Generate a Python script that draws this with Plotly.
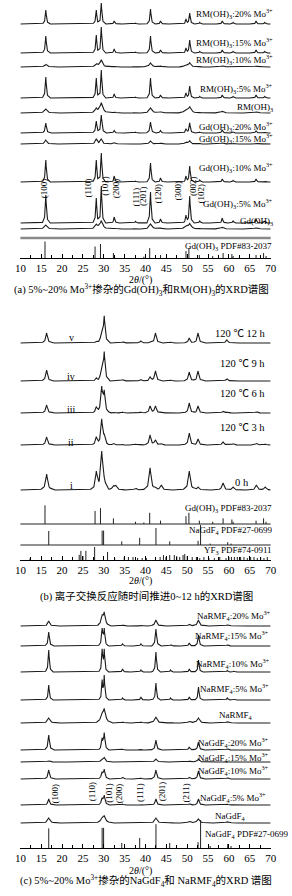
import numpy as np
import plotly.graph_objects as go

W, H = 292, 896
FONT = "'Liberation Serif', 'Times New Roman', 'Noto Sans CJK SC', serif"

# ===================== DATA =====================
# ---- Panel (a): hydroxide patterns, peak positions (2θ/°) and heights ----
A_POS = [16.1, 28.2, 29.4, 32.5, 37.6, 41.2, 43.6, 49.7, 50.6, 53.0, 58.4, 61.0, 66.5, 68.6]
A_NAMES = ["RM(OH)<sub>3</sub>:20% Mo<sup>3+</sup>", "RM(OH)<sub>3</sub>:15% Mo<sup>3+</sup>",
           "RM(OH)<sub>3</sub>:10% Mo<sup>3+</sup>", "RM(OH)<sub>3</sub>:5% Mo<sup>3+</sup>",
           "RM(OH)<sub>3</sub>", "Gd(OH)<sub>3</sub>:20% Mo<sup>3+</sup>",
           "Gd(OH)<sub>3</sub>:15% Mo<sup>3+</sup>", "Gd(OH)<sub>3</sub>:10% Mo<sup>3+</sup>",
           "Gd(OH)<sub>3</sub>:5% Mo<sup>3+</sup>", "Gd(OH)<sub>3</sub>"]
A_HEIGHTS = [
    [14, 14, 21, 3, 1, 15, 3, 5, 11, 1.5, 3, 1.5, 3, 1.5],
    [17, 18, 26, 4, 1, 17, 3, 5, 13, 1.5, 3, 1.5, 3, 1.5],
    [3, 3, 7, 1, 0.5, 4, 1, 2, 4, 0.5, 1.5, 0.5, 1, 0.5],
    [21, 20, 28, 4, 1, 20, 3, 5, 12, 1.5, 3, 1.5, 3, 1.5],
    [4, 4, 10, 1, 0.5, 5, 1.5, 3, 6, 0.5, 2, 0.5, 1.5, 0.5],
    [10, 12, 18, 2.5, 1, 11, 2.5, 4, 10, 1, 3, 1, 2, 1],
    [4, 5, 5, 1.5, 0.5, 3, 1, 2, 3, 0.5, 1.5, 0.5, 1, 0.5],
    [22, 22, 29, 6, 1, 19, 4, 6, 16, 2, 3, 1.5, 3, 1],
    [28, 25, 37, 6, 1.5, 31, 4, 8, 27, 2, 5, 2, 4, 2],
    [4, 4, 8, 1, 0.5, 5, 1, 3, 5, 0.5, 2, 0.5, 1.5, 0.5],
]
A_HKL = ["(100)", "(110)", "(101)", "(200)", "(111)", "(201)", "(120)", "(300)", "(002)", "(102)"]
A_HKL_POS = [15.75, 26.1, 30.2, 33.0, 37.6, 39.4, 43.1, 47.9, 51.4, 53.4]

# ---- Reference cards (relative intensities) ----
GD_PDF_NAME = "Gd(OH)<sub>3</sub> PDF#83-2037"
GD_PDF_POS = [15.9, 27.9, 29.2, 32.3, 37.6, 39.6, 41.0, 43.6, 49.7, 50.4, 52.9, 56.1, 58.6, 60.7, 61.0, 66.5, 68.3, 68.9]
GD_PDF_I = [100, 70, 85, 30, 12, 8, 60, 18, 42, 60, 18, 12, 30, 24, 12, 18, 30, 12]

NAGDF_PDF_NAME = "NaGdF<sub>4</sub> PDF#27-0699"
NAGDF_PDF_POS = [16.8, 29.6, 29.95, 34.3, 38.6, 42.5, 45.8, 52.6, 53.2, 55.5, 59.7, 60.5]
NAGDF_PDF_I = [70, 72, 72, 18, 36, 85, 18, 21, 100, 7, 14, 7]

YF3_PDF_NAME = "YF<sub>3</sub> PDF#74-0911"
YF3_PDF_POS = [12.3, 24.1, 24.5, 25.0, 25.7, 27.8, 30.9, 32.6, 34.9, 35.9, 37.0, 38.1, 39.2, 40.2,
               43.5, 44.3, 44.9, 45.8, 46.9, 47.5, 48.2, 49.0, 49.4, 50.0, 51.2, 52.2, 53.0, 54.0,
               55.2, 56.5, 57.8, 59.3, 60.0, 60.6, 61.3, 62.0, 62.8, 63.6, 64.4, 65.2, 66.0, 66.8,
               67.6, 68.4, 69.2]
YF3_PDF_I = [12, 40, 70, 30, 70, 100, 62, 15, 23, 23, 23, 15, 15, 15,
             23, 38, 23, 38, 38, 30, 23, 38, 46, 30, 23, 23, 15, 23,
             15, 15, 23, 15, 23, 23, 23, 23, 23, 23, 15, 23, 23, 15,
             23, 15, 23]

# ---- Panel (b): ion exchange time series ----
B_POS = [16.3, 28.2, 29.5, 30.1, 32.3, 32.9, 34.5, 37.6, 38.9, 41.1, 42.4, 43.8, 46.0,
         50.5, 52.6, 58.6, 59.5, 61.0, 66.6, 68.7]
B_NAMES = ["120 ℃ 12 h", "120 ℃ 9 h", "120 ℃ 6 h", "120 ℃ 3 h", "0 h"]
B_ROMAN = ["v", "iv", "iii", "ii", "i"]
B_HEIGHTS = [
    [10, 2, 8, 26, 0.5, 0, 1.5, 0, 2, 1, 10, 0, 1, 5, 10, 0, 3, 0.5, 0.5, 0],
    [11, 3, 10, 28, 0.5, 0, 1.5, 0, 1.5, 4, 10, 0, 1, 9, 10, 0.5, 2.5, 0.5, 0.5, 0],
    [8, 6, 24, 20, 1, 0, 1, 0.5, 1, 7, 7, 1, 0.5, 10, 7, 2, 1, 0.5, 1.5, 0.5],
    [8, 8, 25, 8, 2, 0, 0.5, 1, 0.5, 10, 5, 1.5, 0.5, 12, 6, 3, 0.5, 1.5, 2, 1],
    [16, 17, 37, 6, 4, 4, 0.5, 2, 0, 22, 2, 5, 0, 19, 3, 7, 0, 3, 5, 3],
]

# ---- Panel (c): fluoride patterns ----
C_POS = [16.8, 29.6, 30.1, 34.5, 38.9, 42.5, 46.0, 50.5, 52.7, 59.6, 61.2]
C_NAMES = ["NaRMF<sub>4</sub>:20% Mo<sup>3+</sup>", "NaRMF<sub>4</sub>:15% Mo<sup>3+</sup>",
           "NaRMF<sub>4</sub>:10% Mo<sup>3+</sup>", "NaRMF<sub>4</sub>:5% Mo<sup>3+</sup>",
           "NaRMF<sub>4</sub>", "NaGdF<sub>4</sub>:20% Mo<sup>3+</sup>",
           "NaGdF<sub>4</sub>:15% Mo<sup>3+</sup>", "NaGdF<sub>4</sub>:10% Mo<sup>3+</sup>",
           "NaGdF<sub>4</sub>:5% Mo<sup>3+</sup>", "NaGdF<sub>4</sub>"]
C_HEIGHTS = [
    [5, 8, 12, 1, 1, 6, 0.5, 2, 6, 1.5, 0.5],
    [14, 16, 16, 2, 2, 17, 1.5, 3, 11, 1.5, 0.5],
    [22, 21, 21, 3, 2, 20, 2, 3, 12, 1.5, 1],
    [15, 18, 23, 2, 3, 17, 2, 3, 13, 2, 1],
    [5, 7, 12, 1, 1, 6, 0.5, 2, 5, 1.5, 0.5],
    [15, 10, 16, 1, 1, 10, 0.5, 3, 8, 1.5, 0.5],
    [1.5, 2, 4, 0.5, 0.5, 3, 0, 1, 3, 0.5, 0],
    [9, 6, 9, 2, 1, 9, 0.5, 2, 8, 1.5, 0.5],
    [6, 6, 9, 1, 0.5, 6, 0.5, 1.5, 6, 1, 0.5],
    [5, 4, 6, 0.5, 0.5, 5, 0.5, 2, 4, 1.5, 0.5],
]
C_HKL = ["(100)", "(110)", "(101)", "(200)", "(111)", "(201)", "(211)"]
C_HKL_POS = [18.4, 27.2, 31.2, 33.7, 38.7, 44.0, 49.8]

CAPTIONS = ["(a) 5%~20% Mo<sup>3+</sup>掺杂的Gd(OH)<sub>3</sub>和RM(OH)<sub>3</sub>的XRD谱图",
            "(b) 离子交换反应随时间推进0~12 h的XRD谱图",
            "(c) 5%~20% Mo<sup>3+</sup>掺杂的NaGdF<sub>4</sub>和 NaRMF<sub>4</sub>的XRD 谱图"]
X_TITLE = "2<i>θ</i>/(°)"

# ===================== LAYOUT / STYLE =====================
PANELS = [dict(top=0, axis=258), dict(top=298, axis=560), dict(top=596, axis=848)]
# baseline height (px above the axis) of each stacked curve
A_OFFS = [234, 205, 191, 160, 145, 125, 114, 76, 35, 29]
A_W = [0.22, 0.22, 0.5, 0.22, 0.55, 0.25, 0.4, 0.22, 0.22, 0.55]
A_LAB_Y = [13, 43, 60, 89, 107, 127, 138, 167, 203, 221]
A_HKL_Y = [188, 188, 186, 188, 197, 196, 193, 190, 186, 193]
B_OFFS = [217, 179, 147, 115, 70]
B_W = [0.35, 0.35, 0.35, 0.35, 0.42]
B_LAB_Y = [333, 363, 393, 427, 482]
B_LAB_X = [273, 272, 272, 272, 255]
B_ROM_Y = [338, 376, 409, 443, 485]
C_OFFS = [222, 202, 176, 148, 125, 98, 86, 69, 43, 25]
C_W = [0.4, 0.25, 0.22, 0.22, 0.5, 0.28, 0.4, 0.3, 0.3, 0.5]
C_LAB_Y = [615, 635, 663, 688, 715, 742, 757, 770, 797, 816]
C_LAB_X = [278, 276, 277, 276, 260, 276, 276, 276, 273, 252]
C_HKL_Y = [793, 792, 793, 793, 793, 791, 793]

LINE = dict(color="#1a1a1a", width=1.1)
XS = np.arange(10.0, 70.0001, 0.02)
SHAPE_DX = np.array([-4.0, -1.5, -0.5, 0.0, 0.5, 1.5, 4.0])
SHAPE_F = np.array([0.0, 0.15, 0.6, 1.0, 0.6, 0.15, 0.0])


def profile(pos, hts, w):
    y = np.zeros_like(XS)
    for p, h in zip(pos, hts):
        if h > 0:
            y += h * np.interp(XS, p + SHAPE_DX * w, SHAPE_F, left=0, right=0)
    return y


fig = go.Figure()


def add_curves(pos, heights, offs, widths, k):
    for hts, off, w in zip(heights, offs, widths):
        fig.add_trace(go.Scatter(x=XS, y=off + profile(pos, hts, w), mode="lines", line=LINE,
                                 xaxis=f"x{k}", yaxis=f"y{k}", hoverinfo="skip", showlegend=False))


def add_sticks(pos, inten, base, scale, k):
    xs, ys = [], []
    for p, i in zip(pos, inten):
        xs += [p, p, None]
        ys += [base, base + i * scale, None]
    fig.add_trace(go.Scatter(x=xs, y=ys, mode="lines", line=dict(color="#222", width=1),
                             xaxis=f"x{k}", yaxis=f"y{k}", hoverinfo="skip", showlegend=False))


add_curves(A_POS, A_HEIGHTS, A_OFFS, A_W, 1)
add_sticks(GD_PDF_POS, GD_PDF_I, 0, 0.165, 1)
add_curves(B_POS, B_HEIGHTS, B_OFFS, B_W, 2)
add_sticks(GD_PDF_POS, GD_PDF_I, 36, 0.187, 2)
add_sticks(NAGDF_PDF_POS, NAGDF_PDF_I, 15, 0.2, 2)
add_sticks(YF3_PDF_POS, YF3_PDF_I, 0, 0.13, 2)
add_curves(C_POS, C_HEIGHTS, C_OFFS, C_W, 3)
add_sticks(NAGDF_PDF_POS, NAGDF_PDF_I, 0, 0.28, 3)

layout = dict(width=W, height=H, margin=dict(l=0, r=0, t=0, b=0),
              paper_bgcolor="white", plot_bgcolor="white", showlegend=False)
for i, p in enumerate(PANELS):
    k = "" if i == 0 else str(i + 1)
    layout[f"xaxis{k}"] = dict(
        domain=[15 / W, 276 / W], range=[10, 70], anchor=f"y{k}", showline=True,
        linecolor="black", linewidth=1, ticks="inside", ticklen=4, tickwidth=1,
        tickcolor="black", tickmode="linear", tick0=10, dtick=5, showgrid=False,
        zeroline=False, fixedrange=True, ticklabelstandoff=0,
        tickfont=dict(family=FONT, size=11, color="black"),
        minor=dict(ticks="inside", tickmode="linear", tick0=10, dtick=2.5, ticklen=3,
                   tickcolor="black", showgrid=False))
    layout[f"yaxis{k}"] = dict(domain=[1 - p["axis"] / H, 1 - p["top"] / H],
                               range=[0, p["axis"] - p["top"]], visible=False, fixedrange=True)
fig.update_layout(**layout)

# separator and card baselines
fig.add_shape(type="line", xref="x domain", yref="y", x0=0, x1=1, y0=20, y1=20,
              line=dict(color="#8a8a8a", width=2.5))
for b in (36, 15):
    fig.add_shape(type="line", xref="x2 domain", yref="y2", x0=0, x1=1, y0=b, y1=b,
                  line=dict(color="#222", width=1))

ann = []


def A(text, x, y, xanchor="right", size=9, xref="paper", angle=0):
    ann.append(dict(text=text, x=x / W if xref == "paper" else x, y=1 - y / H, xref=xref,
                    yref="paper", xanchor=xanchor, yanchor="middle", showarrow=False,
                    textangle=angle, font=dict(family=FONT, size=size, color="black")))


for t, y in zip(A_NAMES, A_LAB_Y):
    A(t, 281, y)
A(GD_PDF_NAME, 280, 247)
for t, x, y in zip(A_HKL, A_HKL_POS, A_HKL_Y):
    A(t, x, y, xanchor="center", xref="x", angle=-90)

for t, x, y in zip(B_NAMES, B_LAB_X, B_LAB_Y):
    A(t, x, y, size=10.5)
for t, y in zip(B_ROMAN, B_ROM_Y):
    A(t, 68, y, xanchor="center", size=10)
A(GD_PDF_NAME, 280, 508)
A(NAGDF_PDF_NAME, 280, 530)
A(YF3_PDF_NAME, 280, 550)

for t, x, y in zip(C_NAMES, C_LAB_X, C_LAB_Y):
    A(t, x, y)
A(NAGDF_PDF_NAME, 205, 834, xanchor="left")
for t, x, y in zip(C_HKL, C_HKL_POS, C_HKL_Y):
    A(t, x, y, xanchor="center", xref="x3", angle=-90)

for y in (279.5, 580.5, 870.5):
    A(X_TITLE, 140, y, xanchor="center", size=10)
for t, x, y in zip(CAPTIONS, (141, 147, 146), (289.5, 596.5, 881)):
    A(t, x, y, xanchor="center", size=10.5)

fig.update_layout(annotations=ann)
fig.write_html("out.html")
